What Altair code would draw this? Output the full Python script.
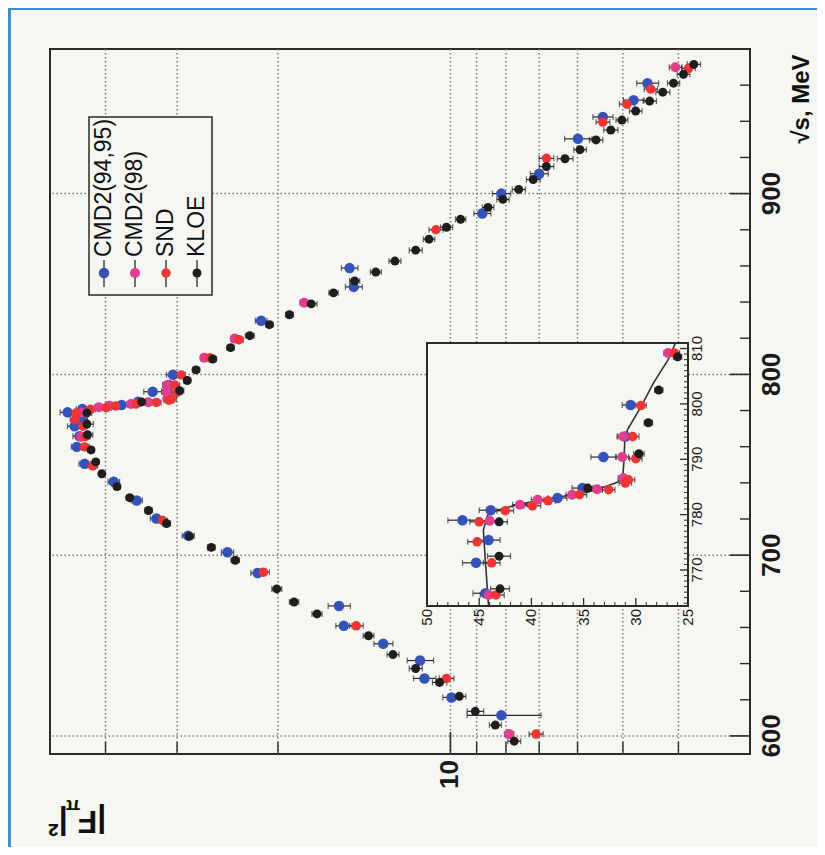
import altair as alt
import pandas as pd

# ---------------- data ----------------
series_names = ["CMD2(94,95)", "CMD2(98)", "SND", "KLOE"]
series_colors = ["#3552b8", "#e23d8f", "#ee3535", "#1e1e1e"]

cmd2a_s = [611.4, 621.3, 631.8, 641.7, 651.0, 660.9, 671.9, 690.1, 701.6, 710.8,
           720.3, 730.2, 740.6, 750.5, 759.9, 765.8, 771.3, 775.4, 779.0, 780.8,
           783.0, 784.8, 790.4, 794.1, 799.8, 829.7, 848.4, 858.8, 889.0, 900.0,
           911.0, 930.3, 942.4, 951.7, 961.1]
cmd2a_F = [8.15, 9.96, 11.1, 11.3, 13.1, 15.35, 15.65, 21.7, 24.5, 28.7,
           32.6, 35.3, 38.7, 43.5, 44.9, 44.4, 45.3, 44.1, 46.6, 43.9,
           37.5, 35.1, 33.1, 31.0, 30.5, 21.4, 14.75, 15.0, 8.8, 8.15,
           7.0, 5.99, 5.42, 4.79, 4.53]
cmd2a_e = [1.2, 0.35, 0.5, 0.6, 0.5, 0.5, 0.7, 0.6, 0.6, 0.7,
           0.8, 0.8, 0.9, 1.0, 1.0, 1.2, 1.3, 1.1, 1.4, 1.1,
           0.9, 1.0, 1.2, 0.8, 0.8, 0.5, 0.5, 0.5, 0.3, 0.3,
           0.25, 0.33, 0.22, 0.2, 0.2]

cmd2b_s = [601.0, 765.5, 778.9, 781.8, 782.7, 783.6, 784.6, 786.6, 790.4, 794.1,
           809.2, 819.8, 839.6, 969.9]
cmd2b_F = [7.9, 44.1, 44.0, 41.1, 39.4, 36.1, 33.7, 31.2, 31.3, 31.2,
           26.9, 23.8, 18.0, 4.05]
cmd2b_e = [0.15, 0.8, 0.8, 0.7, 0.6, 0.6, 0.5, 0.5, 0.6, 0.5,
           0.4, 0.4, 0.3, 0.1]

snd_s = [601.0, 631.8, 660.9, 690.6, 719.2, 749.4, 759.9, 765.5, 771.3, 775.1,
         778.7, 780.7, 781.6, 782.5, 783.6, 784.5, 785.7, 786.3, 790.1, 794.1,
         799.7, 809.2, 819.2, 880.0, 919.5, 939.6, 949.5, 957.8, 969.3]
snd_F = [7.09, 10.16, 14.6, 21.2, 31.8, 42.1, 43.5, 43.4, 43.8, 45.2,
         45.0, 42.5, 39.9, 38.4, 35.4, 32.6, 31.0, 30.7, 30.0, 30.3,
         29.5, 26.3, 23.4, 10.6, 6.8, 5.42, 4.92, 4.47, 3.84]
snd_e = [0.2, 0.3, 0.4, 0.5, 0.6, 0.8, 0.8, 0.8, 0.8, 0.9,
         0.9, 0.8, 0.8, 0.7, 0.7, 0.6, 0.6, 0.6, 0.6, 0.6,
         0.5, 0.5, 0.4, 0.3, 0.2, 0.15, 0.15, 0.12, 0.1]

kloe_s = [597.1, 606.0, 613.6, 621.9, 629.6, 637.3, 645.0, 655.4, 667.5, 674.1,
          681.3, 697.2, 704.3, 710.4, 717.5, 724.7, 731.8, 737.9, 745.0, 751.6,
          758.2, 766.6, 772.5, 778.7, 784.8, 791.0, 796.6, 802.5, 808.5, 814.8,
          821.4, 827.5, 833.0, 839.0, 845.1, 851.7, 856.6, 862.7, 868.7, 874.8,
          881.4, 885.8, 892.4, 896.8, 902.3, 907.8, 915.0, 919.3, 924.3, 929.7,
          935.2, 940.7, 945.7, 951.2, 956.1, 961.1, 966.0, 971.5]
kloe_F = [7.74, 8.35, 9.05, 9.65, 10.45, 11.5, 12.6, 13.9, 17.1, 18.75,
          20.1, 23.75, 26.15, 28.55, 31.3, 33.65, 36.3, 38.2, 40.6, 41.6,
          42.4, 43.0, 43.1, 43.1, 34.6, 29.7, 28.8, 27.8, 26.0, 24.2,
          22.4, 20.7, 19.1, 17.5, 16.0, 14.7, 13.5, 12.5, 11.5, 10.9,
          10.16, 9.6, 8.6, 8.1, 7.6, 7.17, 6.8, 6.31, 5.94, 5.57,
          5.25, 5.02, 4.75, 4.49, 4.26, 4.08, 3.92, 3.76]
kloe_e = [0.2, 0.2, 0.3, 0.25, 0.3, 0.3, 0.3, 0.3, 0.35, 0.35,
          0.4, 0.4, 0.4, 0.4, 0.5, 0.5, 0.5, 0.5, 0.5, 0.5,
          0.5, 0.9, 1.1, 0.8, 0.9, 0.5, 0.4, 0.4, 0.4, 0.35,
          0.4, 0.3, 0.3, 0.4, 0.3, 0.3, 0.3, 0.3, 0.3, 0.25,
          0.25, 0.2, 0.2, 0.2, 0.2, 0.2, 0.2, 0.2, 0.15, 0.15,
          0.15, 0.12, 0.12, 0.12, 0.12, 0.1, 0.1, 0.1]

# fitted curve in the inset
fit_s = [763.5, 771.3, 777.2, 779.9, 780.8, 781.9, 783.0, 784.1, 785.2, 785.9,
         786.8, 789.3, 793.5, 795.3, 799.5, 803.8, 808.0, 811.0]
fit_F = [44.1, 44.4, 44.6, 44.2, 43.3, 41.1, 37.9, 34.6, 32.7, 31.7,
         31.25, 31.15, 31.05, 30.8, 29.5, 28.3, 26.9, 26.2]

# axes / grid values
grid_F = [4, 5, 6, 7, 8, 9, 10, 20, 30, 40]
grid_s = [600, 700, 800, 900]
tick_F_minor = [4, 5, 6, 7, 8, 9, 20, 30, 40]
tick_F_major = [10]
label_F = [10]
tick_s_major = [600, 700, 800, 900]
tick_s_minor = [620, 640, 660, 680, 720, 740, 760, 780, 820, 840, 860, 880,
                920, 940, 960]
inset_F_domain = [25, 50]
inset_s_domain = [763.5, 811.0]
inset_F_major = [25, 30, 35, 40, 45, 50]
inset_F_minor = [26, 27, 28, 29, 31, 32, 33, 34, 36, 37, 38, 39, 41, 42, 43, 44,
                 46, 47, 48, 49]
inset_s_major = [770, 780, 790, 800, 810]
inset_s_minor = [764, 765, 766, 767, 768, 769, 771, 772, 773, 774, 775, 776, 777,
                 778, 779, 781, 782, 783, 784, 785, 786, 787, 788, 789, 791, 792,
                 793, 794, 795, 796, 797, 798, 799, 801, 802, 803, 804, 805, 806,
                 807, 808, 809]

# ---------------- styling ----------------
BG = "#f6f6f2"
BLUE = "#4190c6"
INK = "#2a2a2a"
GRID = "#7a7a7a"
FONT = "Liberation Sans"
W, H = 700, 705
PAD = {"left": 42, "top": 41, "right": 67, "bottom": 93}
IX0, IX1, IY0, IY1 = 377, 638, 294, 557   # inset box inside plot area (px)

rows = []
for name, S, F, E in [(series_names[0], cmd2a_s, cmd2a_F, cmd2a_e),
                      (series_names[1], cmd2b_s, cmd2b_F, cmd2b_e),
                      (series_names[2], snd_s, snd_F, snd_e),
                      (series_names[3], kloe_s, kloe_F, kloe_e)]:
    for s, f, e in zip(S, F, E):
        rows.append({"series": name, "s": s, "F": f, "lo": f - e, "hi": f + e})
df = pd.DataFrame(rows)
df_in = df[(df.s >= inset_s_domain[0]) & (df.s <= inset_s_domain[1])]

color_scale = alt.Scale(domain=series_names, range=series_colors)
size_scale = alt.Scale(domain=series_names, range=[110, 80, 110, 110])

x_main = alt.Scale(type="log", domain=[3, 50], reverse=True, nice=False)
y_main = alt.Scale(domain=[590, 980], nice=False, zero=False)
x_ins = alt.Scale(domain=inset_F_domain, range=[IX1, IX0], nice=False, zero=False)
y_ins = alt.Scale(domain=inset_s_domain, range=[IY1, IY0], nice=False, zero=False)

one = pd.DataFrame({"k": [0]})


def vals(v):
    return alt.Chart(pd.DataFrame({"v": v}))


# ---------------- main panel ----------------
strip_left = alt.Chart(one).mark_rect(color=BLUE).encode(
    x=alt.value(-PAD["left"]), x2=alt.value(-PAD["left"] + 3),
    y=alt.value(-PAD["top"]), y2=alt.value(H + PAD["bottom"]))
strip_top = alt.Chart(one).mark_rect(color=BLUE).encode(
    x=alt.value(-PAD["left"]), x2=alt.value(W + PAD["right"]),
    y=alt.value(-PAD["top"]), y2=alt.value(-PAD["top"] + 2))

grid_v = vals(grid_F).mark_rule(color=GRID, strokeDash=[1.5, 2.5], strokeWidth=1.5).encode(
    x=alt.X("v:Q", scale=x_main, axis=None))
grid_h = vals(grid_s).mark_rule(color=GRID, strokeDash=[1.5, 2.5], strokeWidth=1.5).encode(
    y=alt.Y("v:Q", scale=y_main, axis=None))

leg = pd.DataFrame({"series": series_names, "i": list(range(len(series_names)))})
leg_base = alt.Chart(leg).transform_calculate(lx="54 + 31 * datum.i")
leg_box = alt.Chart(one).mark_rect(fill=BG, stroke=INK, strokeWidth=1.5).encode(
    x=alt.value(39), x2=alt.value(162), y=alt.value(68), y2=alt.value(246))
leg_line = leg_base.mark_rule(color=INK, strokeWidth=1.3).encode(
    x=alt.X("lx:Q", scale=None, axis=None), y=alt.value(211), y2=alt.value(238))
leg_pt = leg_base.mark_point(filled=True, shape="circle", opacity=1).encode(
    x=alt.X("lx:Q", scale=None, axis=None), y=alt.value(224),
    color=alt.Color("series:N", scale=color_scale, legend=None),
    size=alt.Size("series:N", scale=size_scale, legend=None))
leg_txt = leg_base.mark_text(angle=270, align="left", baseline="middle",
                             fontSize=23, font=FONT, color="#111").encode(
    x=alt.X("lx:Q", scale=None, axis=None), y=alt.value(208), text="series:N")


def errbars(data, xs, ys):
    bar = alt.Chart(data).mark_rule(color=INK, strokeWidth=1.2).encode(
        x=alt.X("lo:Q", scale=xs, axis=None), x2="hi:Q",
        y=alt.Y("s:Q", scale=ys, axis=None))
    capl = alt.Chart(data).mark_tick(color=INK, orient="vertical", size=6,
                                     thickness=1.2).encode(
        x=alt.X("lo:Q", scale=xs, axis=None), y=alt.Y("s:Q", scale=ys, axis=None))
    capr = alt.Chart(data).mark_tick(color=INK, orient="vertical", size=6,
                                     thickness=1.2).encode(
        x=alt.X("hi:Q", scale=xs, axis=None), y=alt.Y("s:Q", scale=ys, axis=None))
    return [bar, capl, capr]


def points(data, xs, ys):
    return alt.Chart(data).mark_circle(opacity=1).encode(
        x=alt.X("F:Q", scale=xs, axis=None), y=alt.Y("s:Q", scale=ys, axis=None),
        color=alt.Color("series:N", scale=color_scale, legend=None),
        size=alt.Size("series:N", scale=size_scale, legend=None))


tk_s_major = vals(tick_s_major).mark_rule(color=INK, strokeWidth=1.6).encode(
    y=alt.Y("v:Q", scale=y_main, axis=None), x=alt.value(W - 20), x2=alt.value(W))
tk_s_minor = vals(tick_s_minor).mark_rule(color=INK, strokeWidth=1.4).encode(
    y=alt.Y("v:Q", scale=y_main, axis=None), x=alt.value(W - 10), x2=alt.value(W))
tk_F_minor = vals(tick_F_minor).mark_rule(color=INK, strokeWidth=1.4).encode(
    x=alt.X("v:Q", scale=x_main, axis=None), y=alt.value(H - 12), y2=alt.value(H))
tk_F_major = vals(tick_F_major).mark_rule(color=INK, strokeWidth=1.6).encode(
    x=alt.X("v:Q", scale=x_main, axis=None), y=alt.value(H - 22), y2=alt.value(H))

lab_s = vals(tick_s_major).mark_text(
    angle=270, align="center", baseline="top", fontSize=26, fontWeight="bold",
    font=FONT, color="#1a1a1a").encode(
    y=alt.Y("v:Q", scale=y_main, axis=None), x=alt.value(W + 9),
    text=alt.Text("v:Q", format="d"))
lab_F = vals(label_F).mark_text(
    angle=270, align="right", baseline="middle", fontSize=26, fontWeight="bold",
    font=FONT, color="#1a1a1a").encode(
    x=alt.X("v:Q", scale=x_main, axis=None), y=alt.value(H + 6),
    text=alt.Text("v:Q", format="d"))

title_s = alt.Chart(one).mark_text(
    text="√s, MeV", angle=270, align="center", baseline="middle", fontSize=24,
    fontWeight="bold", font=FONT, color="#111").encode(
    x=alt.value(W + 52), y=alt.value(50))
title_f1 = alt.Chart(one).mark_text(
    text="|F", angle=180, align="center", baseline="middle", fontSize=32,
    fontWeight="bold", font=FONT, color="#111").encode(
    x=alt.value(42), y=alt.value(H + 67))
title_f2 = alt.Chart(one).mark_text(
    text="π", angle=180, align="center", baseline="middle", fontSize=19,
    fontWeight="bold", font=FONT, color="#111").encode(
    x=alt.value(23), y=alt.value(H + 52))
title_f3 = alt.Chart(one).mark_text(
    text="|²", angle=180, align="center", baseline="middle", fontSize=32,
    fontWeight="bold", font=FONT, color="#111").encode(
    x=alt.value(8), y=alt.value(H + 69))

main = alt.layer(
    strip_left, strip_top, grid_v, grid_h, leg_box, leg_line, leg_pt, leg_txt,
    *errbars(df, x_main, y_main), points(df, x_main, y_main),
    tk_s_minor, tk_s_major, tk_F_minor, tk_F_major, lab_s, lab_F,
    title_s, title_f1, title_f2, title_f3)

# ---------------- inset ----------------
frame_df = pd.DataFrame({"f0": [inset_F_domain[0]], "f1": [inset_F_domain[1]],
                         "s0": [inset_s_domain[0]], "s1": [inset_s_domain[1]]})
ins_frame = alt.Chart(frame_df).mark_rect(fill=BG, stroke=INK, strokeWidth=2).encode(
    x=alt.X("f0:Q", scale=x_ins, axis=None), x2="f1:Q",
    y=alt.Y("s0:Q", scale=y_ins, axis=None), y2="s1:Q")
ins_fit = alt.Chart(pd.DataFrame({"s": fit_s, "F": fit_F})).mark_line(
    color="#333", strokeWidth=1.6).encode(
    x=alt.X("F:Q", scale=x_ins, axis=None), y=alt.Y("s:Q", scale=y_ins, axis=None),
    order="s:Q")
ins_tF_major = vals(inset_F_major).mark_rule(color=INK, strokeWidth=1.3).encode(
    x=alt.X("v:Q", scale=x_ins, axis=None), y=alt.value(IY1 - 8), y2=alt.value(IY1))
ins_tF_minor = vals(inset_F_minor).mark_rule(color=INK, strokeWidth=1).encode(
    x=alt.X("v:Q", scale=x_ins, axis=None), y=alt.value(IY1 - 4), y2=alt.value(IY1))
ins_ts_major = vals(inset_s_major).mark_rule(color=INK, strokeWidth=1.3).encode(
    y=alt.Y("v:Q", scale=y_ins, axis=None), x=alt.value(IX1 - 8), x2=alt.value(IX1))
ins_ts_minor = vals(inset_s_minor).mark_rule(color=INK, strokeWidth=1).encode(
    y=alt.Y("v:Q", scale=y_ins, axis=None), x=alt.value(IX1 - 4), x2=alt.value(IX1))
ins_lab_F = vals(inset_F_major).mark_text(
    angle=270, align="right", baseline="middle", fontSize=15, font=FONT,
    color="#1a1a1a").encode(
    x=alt.X("v:Q", scale=x_ins, axis=None), y=alt.value(IY1 + 3),
    text=alt.Text("v:Q", format="d"))
ins_lab_s = vals(inset_s_major).mark_text(
    angle=270, align="center", baseline="top", fontSize=15, font=FONT,
    color="#1a1a1a").encode(
    y=alt.Y("v:Q", scale=y_ins, axis=None), x=alt.value(IX1 + 2),
    text=alt.Text("v:Q", format="d"))

inset = alt.layer(ins_frame, *errbars(df_in, x_ins, y_ins), ins_fit,
                  points(df_in, x_ins, y_ins),
                  ins_tF_minor, ins_tF_major, ins_ts_minor, ins_ts_major,
                  ins_lab_F, ins_lab_s)

chart = alt.layer(main, inset).resolve_scale(
    x="independent", y="independent").properties(
    width=W, height=H, padding=PAD, autosize=alt.AutoSizeParams(type="none"),
    background=BG).configure_view(stroke=INK, strokeWidth=2)

chart.save("out.html", embed_options={"renderer": "svg", "actions": False})
